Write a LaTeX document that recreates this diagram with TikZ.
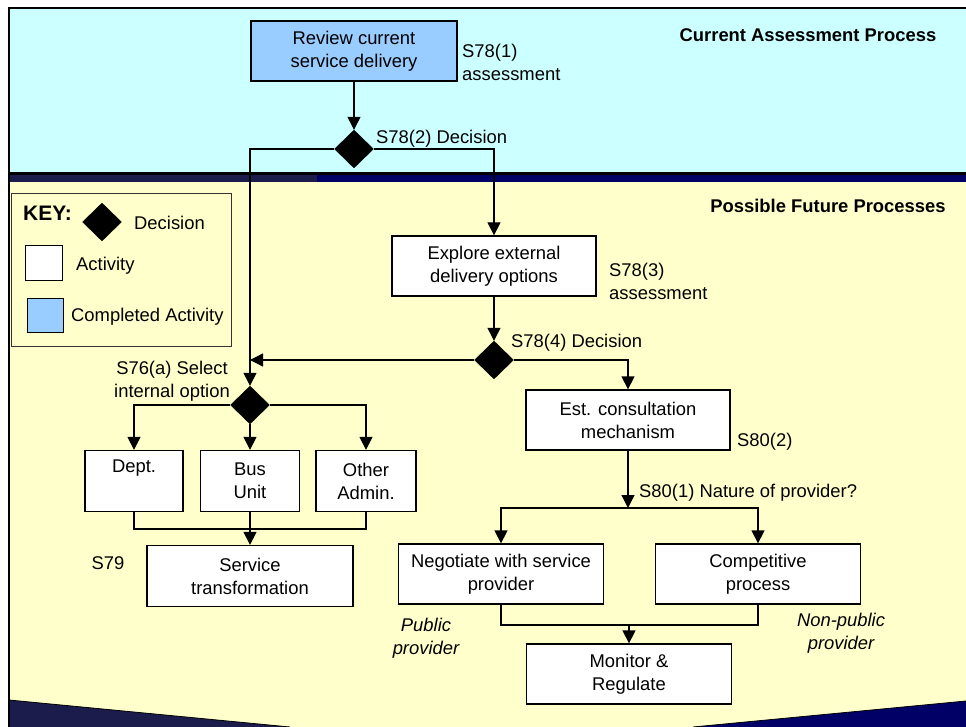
\documentclass[tikz,border=0pt]{standalone}
\usepackage{fontspec}
\setmainfont{Liberation Sans}
\usetikzlibrary{shapes.geometric,arrows.meta}
\definecolor{skyfill}{HTML}{CCFFFF}
\definecolor{creamfill}{HTML}{FFFFCC}
\definecolor{donefill}{HTML}{99CCFF}
\definecolor{slateband}{HTML}{1C1C4C}
\definecolor{navyband}{HTML}{000066}

\begin{document}
\begin{tikzpicture}[x=1pt,y=-1pt,
  every node/.style={font=\fontsize{18.4}{23}\selectfont},
  act/.style={draw=black, line width=1.3pt, fill=white, align=center, inner sep=0pt, minimum height=60pt},
  done/.style={act, fill=donefill},
  choice/.style={diamond, fill=black, draw=black, inner sep=0pt, minimum width=39pt, minimum height=38pt},
  lbl/.style={align=left, inner sep=0pt},
  note/.style={align=center, inner sep=0pt, font=\fontsize{18.4}{23}\selectfont\itshape},
  head/.style={inner sep=0pt, font=\fontsize{18.4}{23}\selectfont\bfseries},
  flow/.style={line width=1.3pt, -{Triangle[length=13pt,width=13pt]}},
  link/.style={line width=1.3pt},
]
\useasboundingbox (0,0) rectangle (966,727);

% swim-lane backgrounds
\fill[skyfill] (9,8) rectangle (966,173);
\fill[creamfill] (9,182) rectangle (966,727);
\fill[black] (9,172) rectangle (966,175.5);
\fill[slateband] (9,175.5) rectangle (317,182.5);
\fill[navyband] (317,175.5) rectangle (966,182.5);
\fill[slateband] (9,700) -- (290,727) -- (9,727) -- cycle;
\fill[navyband] (966,701) -- (693,727) -- (966,727) -- cycle;
\draw[line width=0.8pt] (9,700) -- (290,727);
\draw[line width=0.8pt] (966,701) -- (693,727);
\draw[line width=2.5pt] (9,727) -- (9,8) -- (966,8);

% lane headings
\node[head] (headnow) at (808,35) {Current Assessment Process};
\node[head] (headnext) at (828,206) {Possible Future Processes};

% key
\node[draw=black!80, line width=1pt, fill=creamfill, minimum width=220pt, minimum height=153pt, anchor=north west, inner sep=0pt] (keybox) at (11,193) {};
\node[inner sep=0pt, anchor=west, font=\fontsize{21}{24}\selectfont\bfseries] (keytitle) at (23,213) {KEY:};
\node[choice] (keydiamond) at (102,222) {};
\node[lbl, anchor=west] (keydec) at (134,223) {Decision};
\node[act, minimum width=37pt, minimum height=35pt, line width=1pt] (keyact) at (43.5,263.5) {};
\node[lbl, anchor=west] (keyacttxt) at (76,266) {Activity};
\node[done, minimum width=36pt, minimum height=34pt, line width=1pt] (keydone) at (45,315) {};
\node[lbl, anchor=west] (keydonetxt) at (71,317) {Completed Activity};

% activities and decisions
\node[done, minimum width=206pt] (review) at (354,51) {Review current\\service delivery};
\node[choice] (d1) at (354,149) {};
\node[act, minimum width=204pt] (explore) at (494,266) {Explore external\\delivery options};
\node[choice] (d2) at (494,360) {};
\node[act, minimum width=204pt] (est) at (628,420) {Est. consultation\\mechanism};
\node[choice] (d3) at (250,405) {};
\node[act, minimum width=98pt, minimum height=61pt] (dept) at (134,481) {Dept.\\\strut};
\node[act, minimum width=99pt, minimum height=61pt] (bus) at (250,481) {Bus\\Unit};
\node[act, minimum width=100pt, minimum height=61pt] (other) at (366,481) {Other\\Admin.};
\node[act, minimum width=206pt, minimum height=61pt] (svc) at (250,576) {Service\\transformation};
\node[act, minimum width=205pt] (neg) at (501,574) {Negotiate with service\\provider};
\node[act, minimum width=205pt] (comp) at (758,574) {Competitive\\process};
\node[act, minimum width=205pt] (mon) at (629,674) {Monitor \&\\Regulate};

% annotations
\node[lbl, anchor=west] (t781) at (462,62) {S78(1)\\assessment};
\node[lbl, anchor=west] (t782) at (376,139) {S78(2) Decision};
\node[lbl, anchor=west] (t783) at (609,281) {S78(3)\\assessment};
\node[lbl, anchor=west] (t784) at (511,343) {S78(4) Decision};
\node[inner sep=0pt, align=center] (t76) at (172,381) {S76(a) Select\\internal option};
\node[lbl, anchor=west] (t802) at (737,442) {S80(2)};
\node[lbl, anchor=west] (t801) at (639,493) {S80(1) Nature of provider?};
\node[lbl] (t79) at (108,563) {S79};
\node[note] (tpub) at (426,638) {Public\\provider};
\node[note] (tnonpub) at (841,633) {Non-public\\provider};

% junction points
\coordinate (split) at (628,508);
\coordinate (joinleft) at (250,529);
\coordinate (joinright) at (629,625);

% connectors
\draw[flow] (review) -- (d1);
\draw[flow] (d1.west) -| (d3.north);
\draw[flow] (d1.east) -| (explore.north);
\draw[flow] (explore) -- (d2);
\draw[flow] (d2.west) -- (d2.west -| d3.north);
\draw[flow] (d2.east) -| (est.north);
\draw[flow] (d3.west) -| (dept.north);
\draw[flow] (d3.south) -- (bus.north);
\draw[flow] (d3.east) -| (other.north);
\draw[link] (dept.south) |- (joinleft) -| (other.south);
\draw[flow] (bus.south) -- (svc.north);
\draw[flow] (est.south) -- (split);
\draw[flow] (split) -| (neg.north);
\draw[flow] (split) -| (comp.north);
\draw[link] (neg.south) |- (joinright) -| (comp.south);
\draw[flow] (joinright) -- (mon.north);
\end{tikzpicture}
\end{document}
